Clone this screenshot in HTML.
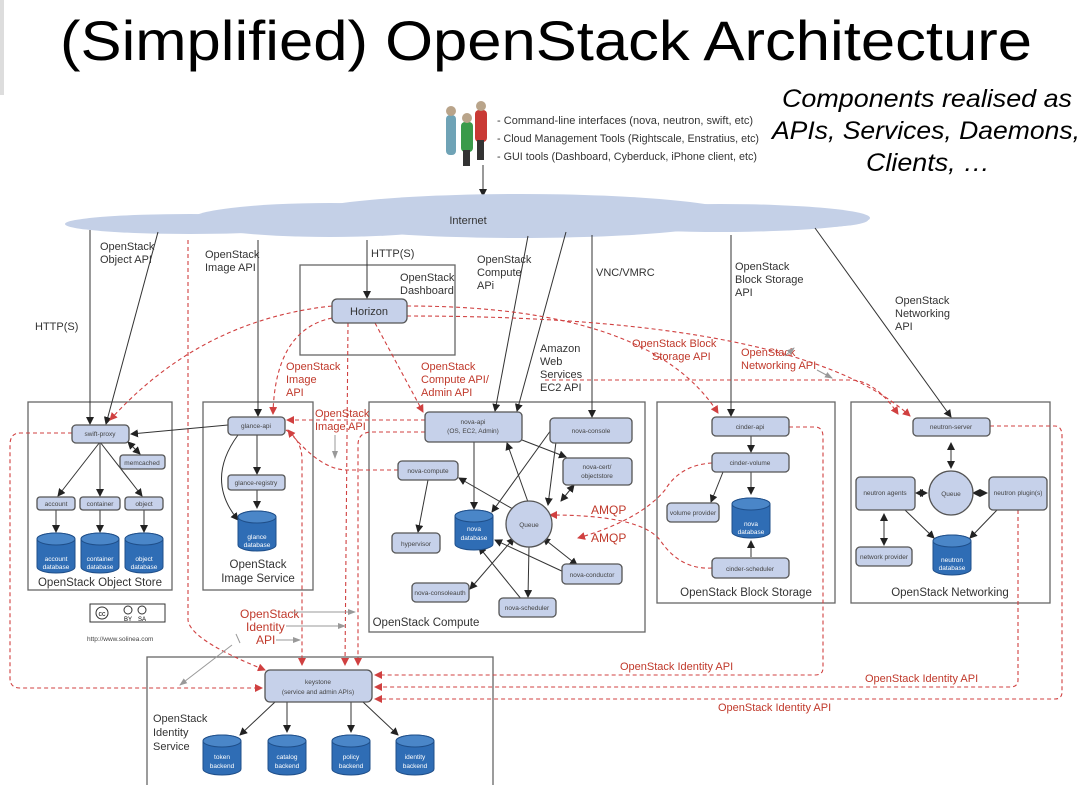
<!DOCTYPE html>
<html><head><meta charset="utf-8"><style>
html,body{margin:0;padding:0;background:#fff;}
svg{display:block;}
.n{fill:#c6d1ea;stroke:#555;stroke-width:1.3;}
.t{font-family:"Liberation Sans Narrow","Liberation Sans",sans-serif;font-size:6.5px;fill:#444;text-anchor:middle;}
.l{font-family:"Liberation Sans Narrow","Liberation Sans",sans-serif;font-size:11px;fill:#333;}
.r{font-family:"Liberation Sans Narrow","Liberation Sans",sans-serif;font-size:11px;fill:#c0392b;}
.bx{fill:none;stroke:#666;stroke-width:1.3;}
.k{stroke:#333;stroke-width:1;fill:none;}
.d{stroke:#d04040;stroke-width:1.1;fill:none;stroke-dasharray:4,3;}
.g{stroke:#999;stroke-width:1;fill:none;}
.db{fill:#2f6db5;stroke:#1f4f8a;stroke-width:1;}
.dbt{font-family:"Liberation Sans Narrow","Liberation Sans",sans-serif;font-size:6.5px;fill:#fff;text-anchor:middle;}
.cap{font-family:"Liberation Sans Narrow","Liberation Sans",sans-serif;font-size:11.5px;fill:#333;text-anchor:middle;}
</style></head><body>
<svg width="1084" height="785" viewBox="0 0 1084 785" xmlns="http://www.w3.org/2000/svg">
<defs>
<marker id="a" markerWidth="8" markerHeight="8" refX="7" refY="4" orient="auto" markerUnits="userSpaceOnUse"><path d="M0,0L8,4L0,8z" fill="#222"/></marker>
<marker id="b" markerWidth="8" markerHeight="8" refX="1" refY="4" orient="auto" markerUnits="userSpaceOnUse"><path d="M8,0L0,4L8,8z" fill="#222"/></marker>
<marker id="ra" markerWidth="8" markerHeight="8" refX="7" refY="4" orient="auto" markerUnits="userSpaceOnUse"><path d="M0,0L8,4L0,8z" fill="#d04040"/></marker>
<marker id="ga" markerWidth="8" markerHeight="8" refX="7" refY="4" orient="auto" markerUnits="userSpaceOnUse"><path d="M0,1L8,4L0,7z" fill="#999"/></marker>
<g id="cyl"><path class="db" d="M0,6 A19,6 0 0 1 38,6 V34 A19,6 0 0 1 0,34 Z"/><ellipse cx="19" cy="6" rx="19" ry="6" fill="#4a86c8" stroke="#1f4f8a"/></g>
</defs>
<rect x="0" y="0" width="4" height="95" fill="#ddd"/>
<text x="546" y="60" font-family="Liberation Sans,sans-serif" font-size="56" text-anchor="middle" fill="#000" textLength="972" lengthAdjust="spacingAndGlyphs">(Simplified) OpenStack Architecture</text>
<g font-family="Liberation Sans,sans-serif" font-size="25" font-style="italic" fill="#000">
<text x="782" y="107" textLength="290" lengthAdjust="spacingAndGlyphs">Components realised as</text>
<text x="772" y="139" textLength="308" lengthAdjust="spacingAndGlyphs">APIs, Services, Daemons,</text>
<text x="866" y="171" textLength="124" lengthAdjust="spacingAndGlyphs">Clients, …</text></g>
<!-- people -->
<g><rect x="446" y="115" width="10" height="40" rx="4" fill="#6fa3b6"/><circle cx="451" cy="111" r="5" fill="#b9a48a"/>
<rect x="475" y="110" width="12" height="32" rx="4" fill="#c93a35"/><circle cx="481" cy="106" r="5" fill="#b9a48a"/><rect x="477" y="140" width="7" height="20" fill="#333"/>
<rect x="461" y="122" width="12" height="30" rx="4" fill="#3a9a4a"/><circle cx="467" cy="118" r="5" fill="#b9a48a"/><rect x="463" y="150" width="7" height="16" fill="#333"/></g>
<g class="l" font-size="10.5"><text x="497" y="124" textLength="256" lengthAdjust="spacingAndGlyphs">- Command-line interfaces (nova, neutron, swift, etc)</text><text x="497" y="142" textLength="262" lengthAdjust="spacingAndGlyphs">- Cloud Management Tools (Rightscale, Enstratius, etc)</text><text x="497" y="160" textLength="260" lengthAdjust="spacingAndGlyphs">- GUI tools (Dashboard, Cyberduck, iPhone client, etc)</text></g>
<line class="k" x1="483" y1="165" x2="483" y2="196" marker-end="url(#a)"/>
<!-- cloud -->
<g fill="#c4d0e7"><ellipse cx="190" cy="224" rx="125" ry="10"/><ellipse cx="330" cy="220" rx="140" ry="17"/><ellipse cx="520" cy="216" rx="220" ry="22"/><ellipse cx="720" cy="218" rx="150" ry="14"/><ellipse cx="800" cy="220" rx="68" ry="8"/></g>
<text x="468" y="224" class="l" font-size="13" text-anchor="middle">Internet</text>
<!-- boxes -->
<rect class="bx" x="28" y="402" width="144" height="188"/>
<rect class="bx" x="203" y="402" width="110" height="188"/>
<rect class="bx" x="369" y="402" width="276" height="230"/>
<rect class="bx" x="657" y="402" width="178" height="201"/>
<rect class="bx" x="851" y="402" width="199" height="201"/>
<rect class="bx" x="147" y="657" width="346" height="140"/>
<rect class="bx" x="300" y="265" width="155" height="90"/>
<!-- black arrows from cloud -->
<line class="k" x1="90" y1="230" x2="90" y2="424" marker-end="url(#a)"/>
<line class="k" x1="158" y1="232" x2="106" y2="424" marker-end="url(#a)"/>
<line class="k" x1="258" y1="240" x2="258" y2="416" marker-end="url(#a)"/>
<line class="k" x1="367" y1="240" x2="367" y2="298" marker-end="url(#a)"/>
<line class="k" x1="528" y1="236" x2="495" y2="411" marker-end="url(#a)"/>
<line class="k" x1="566" y1="232" x2="517" y2="411" marker-end="url(#a)"/>
<line class="k" x1="592" y1="235" x2="592" y2="417" marker-end="url(#a)"/>
<line class="k" x1="731" y1="235" x2="731" y2="416" marker-end="url(#a)"/>
<line class="k" x1="815" y1="228" x2="951" y2="417" marker-end="url(#a)"/>
<!-- labels black -->
<g class="l"><text x="100" y="250">OpenStack</text><text x="100" y="263">Object API</text>
<text x="35" y="330">HTTP(S)</text>
<text x="205" y="258">OpenStack</text><text x="205" y="271">Image API</text>
<text x="371" y="257">HTTP(S)</text>
<text x="400" y="281">OpenStack</text><text x="400" y="294">Dashboard</text>
<text x="477" y="263">OpenStack</text><text x="477" y="276">Compute</text><text x="477" y="289">APi</text>
<text x="596" y="276">VNC/VMRC</text>
<text x="540" y="352">Amazon</text><text x="540" y="365">Web</text><text x="540" y="378">Services</text><text x="540" y="391">EC2 API</text>
<text x="735" y="270">OpenStack</text><text x="735" y="283">Block Storage</text><text x="735" y="296">API</text>
<text x="895" y="304">OpenStack</text><text x="895" y="317">Networking</text><text x="895" y="330">API</text></g>
<!-- red dashed -->
<path class="d" d="M188,240 V620 Q190,640 265,670" marker-end="url(#ra)"/>
<path class="d" d="M332,306 Q200,320 110,420" marker-end="url(#ra)"/>
<path class="d" d="M332,318 Q275,330 273,414" marker-end="url(#ra)"/>
<path class="d" d="M348,323 L345,665" marker-end="url(#ra)"/>
<path class="d" d="M375,323 L423,412" marker-end="url(#ra)"/>
<path class="d" d="M407,306 Q650,306 718,413" marker-end="url(#ra)"/>
<path class="d" d="M407,316 Q800,316 910,416" marker-end="url(#ra)"/>
<path class="d" d="M545,380 H850 Q875,380 898,414" marker-end="url(#ra)"/>
<path class="d" d="M425,420 H287" marker-end="url(#ra)"/>
<path class="d" d="M425,432 H372 Q358,432 358,445 V665" marker-end="url(#ra)"/>
<path class="d" d="M398,470 H347 Q320,470 288,430" marker-end="url(#ra)"/>
<path class="d" d="M286,430 Q302,440 302,460 V665" marker-end="url(#ra)"/>
<path class="d" d="M72,433 H20 Q10,433 10,445 V678 Q10,688 20,688 H262" marker-end="url(#ra)"/>
<path class="d" d="M789,427 H815 Q823,427 823,437 V668 Q823,675 815,675 H375" marker-end="url(#ra)"/>
<path class="d" d="M1018,510 V680 Q1018,687 1010,687 H375" marker-end="url(#ra)"/>
<path class="d" d="M990,426 H1055 Q1062,426 1062,436 V692 Q1062,699 1055,699 H375" marker-end="url(#ra)"/>
<path class="d" d="M712,463 Q680,465 665,490 Q640,520 578,538" marker-end="url(#ra)"/>
<path class="d" d="M712,568 Q680,570 660,540 Q640,515 550,515" marker-end="url(#ra)"/>
<!-- Horizon -->
<rect class="n" x="332" y="299" width="75" height="24" rx="5"/><text x="369" y="315" class="l" font-size="11" text-anchor="middle">Horizon</text>
<!-- red labels -->
<g class="r"><text x="286" y="370">OpenStack</text><text x="286" y="383">Image</text><text x="286" y="396">API</text>
<text x="421" y="370">OpenStack</text><text x="421" y="383">Compute API/</text><text x="421" y="396">Admin API</text>
<text x="632" y="347">OpenStack Block</text><text x="652" y="360">Storage API</text>
<text x="741" y="356">OpenStack</text><text x="741" y="369">Networking API</text>
<text x="315" y="417">OpenStack</text><text x="315" y="430">Image API</text>
<text x="591" y="514" font-size="12">AMQP</text><text x="591" y="542" font-size="12">AMQP</text>
<text x="240" y="618" font-size="12">OpenStack</text><text x="246" y="631" font-size="12">Identity</text><text x="256" y="644" font-size="12">API</text>
<text x="620" y="670">OpenStack Identity API</text><text x="865" y="682">OpenStack Identity API</text><text x="718" y="711">OpenStack Identity API</text></g>
<!-- gray arrows -->
<line class="g" x1="292" y1="612" x2="355" y2="612" marker-end="url(#ga)"/>
<line class="g" x1="286" y1="626" x2="345" y2="626" marker-end="url(#ga)"/>
<line class="g" x1="276" y1="640" x2="300" y2="640" marker-end="url(#ga)"/>
<line class="g" x1="236" y1="634" x2="240" y2="643" />
<line class="g" x1="232" y1="645" x2="180" y2="685" marker-end="url(#ga)"/>
<line class="g" x1="335" y1="435" x2="335" y2="458" marker-end="url(#ga)"/>
<line class="g" x1="785" y1="356" x2="794" y2="348" marker-end="url(#ga)"/>
<line class="g" x1="817" y1="370" x2="832" y2="378" marker-end="url(#ga)"/>
<!-- object store -->
<line class="k" x1="100" y1="442" x2="58" y2="496" marker-end="url(#a)"/>
<line class="k" x1="100" y1="442" x2="100" y2="496" marker-end="url(#a)"/>
<line class="k" x1="100" y1="442" x2="142" y2="496" marker-end="url(#a)"/>
<line class="k" x1="128" y1="442" x2="140" y2="454" marker-start="url(#b)" marker-end="url(#a)"/>
<line class="k" x1="56" y1="510" x2="56" y2="532" marker-end="url(#a)"/>
<line class="k" x1="100" y1="510" x2="100" y2="532" marker-end="url(#a)"/>
<line class="k" x1="144" y1="510" x2="144" y2="532" marker-end="url(#a)"/>
<line class="k" x1="228" y1="425" x2="131" y2="434" marker-end="url(#a)"/>
<rect class="n" x="72" y="425" width="57" height="18" rx="4"/><text class="t" x="100" y="436">swift-proxy</text>
<rect class="n" x="120" y="455" width="45" height="14" rx="3"/><text class="t" x="142" y="465">memcached</text>
<rect class="n" x="37" y="497" width="38" height="13" rx="3"/><text class="t" x="56" y="506">account</text>
<rect class="n" x="80" y="497" width="40" height="13" rx="3"/><text class="t" x="100" y="506">container</text>
<rect class="n" x="125" y="497" width="38" height="13" rx="3"/><text class="t" x="144" y="506">object</text>
<use href="#cyl" x="37" y="533"/><text class="dbt" x="56" y="561">account</text><text class="dbt" x="56" y="569">database</text>
<use href="#cyl" x="81" y="533"/><text class="dbt" x="100" y="561">container</text><text class="dbt" x="100" y="569">database</text>
<use href="#cyl" x="125" y="533"/><text class="dbt" x="144" y="561">object</text><text class="dbt" x="144" y="569">database</text>
<text class="cap" x="100" y="586">OpenStack Object Store</text>
<g transform="translate(90,604)"><rect x="0" y="0" width="75" height="18" fill="none" stroke="#333"/><circle cx="12" cy="9" r="6" fill="none" stroke="#333"/><text x="12" y="12" font-size="7" text-anchor="middle" font-family="Liberation Sans">cc</text><circle cx="38" cy="6" r="4" fill="none" stroke="#333"/><circle cx="52" cy="6" r="4" fill="none" stroke="#333"/><text x="38" y="17" font-size="6" text-anchor="middle" font-family="Liberation Sans">BY</text><text x="52" y="17" font-size="6" text-anchor="middle" font-family="Liberation Sans">SA</text></g>
<text x="87" y="641" font-family="Liberation Sans" font-size="6.5" fill="#444">http://www.solinea.com</text>
<!-- glance -->
<line class="k" x1="257" y1="435" x2="257" y2="474" marker-end="url(#a)"/>
<line class="k" x1="257" y1="490" x2="257" y2="508" marker-end="url(#a)"/>
<path class="k" d="M238,435 Q205,480 238,520" marker-end="url(#a)"/>
<rect class="n" x="228" y="417" width="57" height="18" rx="4"/><text class="t" x="256" y="428">glance-api</text>
<rect class="n" x="228" y="475" width="57" height="15" rx="3"/><text class="t" x="256" y="485">glance-registry</text>
<use href="#cyl" x="238" y="511"/><text class="dbt" x="257" y="539">glance</text><text class="dbt" x="257" y="547">database</text>
<text class="cap" x="258" y="568">OpenStack</text><text class="cap" x="258" y="582">Image Service</text>
<!-- compute -->
<g class="k">
<line x1="474" y1="442" x2="474" y2="509" marker-end="url(#a)"/>
<line x1="528" y1="502" x2="507" y2="443" marker-end="url(#a)"/>
<line x1="522" y1="440" x2="566" y2="457" marker-end="url(#a)"/>
<line x1="551" y1="430" x2="492" y2="512" marker-end="url(#a)"/>
<line x1="556" y1="442" x2="548" y2="505" marker-end="url(#a)"/>
<line x1="459" y1="478" x2="525" y2="516" marker-start="url(#b)" marker-end="url(#a)"/>
<line x1="574" y1="485" x2="561" y2="501" marker-start="url(#b)" marker-end="url(#a)"/>
<line x1="428" y1="480" x2="418" y2="532" marker-end="url(#a)"/>
<line x1="566" y1="573" x2="495" y2="540" marker-end="url(#a)"/>
<line x1="543" y1="538" x2="577" y2="565" marker-start="url(#b)" marker-end="url(#a)"/>
<line x1="514" y1="538" x2="470" y2="589" marker-start="url(#b)" marker-end="url(#a)"/>
<line x1="522" y1="600" x2="479" y2="547" marker-end="url(#a)"/>
<line x1="529" y1="546" x2="528" y2="597" marker-end="url(#a)"/></g>
<rect class="n" x="425" y="412" width="97" height="30" rx="4"/><text class="t" x="473" y="424">nova-api</text><text class="t" x="473" y="433">(OS, EC2, Admin)</text>
<rect class="n" x="550" y="418" width="82" height="25" rx="4"/><text class="t" x="591" y="433">nova-console</text>
<rect class="n" x="398" y="461" width="60" height="19" rx="4"/><text class="t" x="428" y="473">nova-compute</text>
<rect class="n" x="563" y="458" width="69" height="27" rx="4"/><text class="t" x="597" y="469">nova-cert/</text><text class="t" x="597" y="478">objectstore</text>
<use href="#cyl" x="455" y="510"/><text class="dbt" x="474" y="531">nova</text><text class="dbt" x="474" y="540">database</text>
<circle class="n" cx="529" cy="524" r="23"/><text class="t" x="529" y="527">Queue</text>
<rect class="n" x="392" y="533" width="48" height="20" rx="4"/><text class="t" x="416" y="546">hypervisor</text>
<rect class="n" x="562" y="564" width="60" height="20" rx="4"/><text class="t" x="592" y="577">nova-conductor</text>
<rect class="n" x="412" y="583" width="57" height="19" rx="4"/><text class="t" x="440" y="595">nova-consoleauth</text>
<rect class="n" x="499" y="598" width="57" height="19" rx="4"/><text class="t" x="527" y="610">nova-scheduler</text>
<text class="cap" x="426" y="626" font-size="11">OpenStack Compute</text>
<!-- cinder -->
<g class="k"><line x1="751" y1="436" x2="751" y2="452" marker-end="url(#a)"/>
<line x1="751" y1="472" x2="751" y2="494" marker-end="url(#a)"/>
<line x1="723" y1="472" x2="711" y2="502" marker-end="url(#a)"/>
<line x1="751" y1="557" x2="751" y2="541" marker-end="url(#a)"/></g>
<rect class="n" x="712" y="417" width="77" height="19" rx="4"/><text class="t" x="750" y="429">cinder-api</text>
<rect class="n" x="712" y="453" width="77" height="19" rx="4"/><text class="t" x="750" y="465">cinder-volume</text>
<rect class="n" x="667" y="503" width="52" height="19" rx="4"/><text class="t" x="693" y="515">volume provider</text>
<use href="#cyl" x="732" y="498"/><text class="dbt" x="751" y="526">nova</text><text class="dbt" x="751" y="534">database</text>
<rect class="n" x="712" y="558" width="77" height="20" rx="4"/><text class="t" x="750" y="571">cinder-scheduler</text>
<text class="cap" x="746" y="596">OpenStack Block Storage</text>
<!-- neutron -->
<g class="k"><line x1="951" y1="443" x2="951" y2="468" marker-start="url(#b)" marker-end="url(#a)"/>
<line x1="916" y1="493" x2="927" y2="493" marker-start="url(#b)" marker-end="url(#a)"/>
<line x1="973" y1="493" x2="987" y2="493" marker-start="url(#b)" marker-end="url(#a)"/>
<line x1="884" y1="514" x2="884" y2="545" marker-start="url(#b)" marker-end="url(#a)"/>
<line x1="905" y1="510" x2="934" y2="538" marker-end="url(#a)"/>
<line x1="997" y1="510" x2="970" y2="538" marker-end="url(#a)"/></g>
<rect class="n" x="913" y="418" width="77" height="18" rx="4"/><text class="t" x="951" y="429">neutron-server</text>
<rect class="n" x="856" y="477" width="59" height="33" rx="4"/><text class="t" x="885" y="495">neutron agents</text>
<circle class="n" cx="951" cy="493" r="22"/><text class="t" x="951" y="496">Queue</text>
<rect class="n" x="989" y="477" width="58" height="33" rx="4"/><text class="t" x="1018" y="495">neutron plugin(s)</text>
<rect class="n" x="856" y="547" width="56" height="19" rx="4"/><text class="t" x="884" y="559">network provider</text>
<use href="#cyl" x="933" y="535"/><text class="dbt" x="952" y="562">neutron</text><text class="dbt" x="952" y="570">database</text>
<text class="cap" x="950" y="596">OpenStack Networking</text>
<!-- keystone -->
<g class="k"><line x1="275" y1="702" x2="240" y2="735" marker-end="url(#a)"/>
<line x1="287" y1="702" x2="287" y2="732" marker-end="url(#a)"/>
<line x1="351" y1="702" x2="351" y2="732" marker-end="url(#a)"/>
<line x1="363" y1="702" x2="398" y2="735" marker-end="url(#a)"/></g>
<rect class="n" x="265" y="670" width="107" height="32" rx="5"/><text class="t" x="318" y="684">keystone</text><text class="t" x="318" y="694">(service and admin APIs)</text>
<text class="l" x="153" y="722">OpenStack</text><text class="l" x="153" y="736">Identity</text><text class="l" x="153" y="750">Service</text>
<use href="#cyl" x="203" y="735"/><text class="dbt" x="222" y="759">token</text><text class="dbt" x="222" y="768">backend</text>
<use href="#cyl" x="268" y="735"/><text class="dbt" x="287" y="759">catalog</text><text class="dbt" x="287" y="768">backend</text>
<use href="#cyl" x="332" y="735"/><text class="dbt" x="351" y="759">policy</text><text class="dbt" x="351" y="768">backend</text>
<use href="#cyl" x="396" y="735"/><text class="dbt" x="415" y="759">identity</text><text class="dbt" x="415" y="768">backend</text>
</svg>
</body></html>
